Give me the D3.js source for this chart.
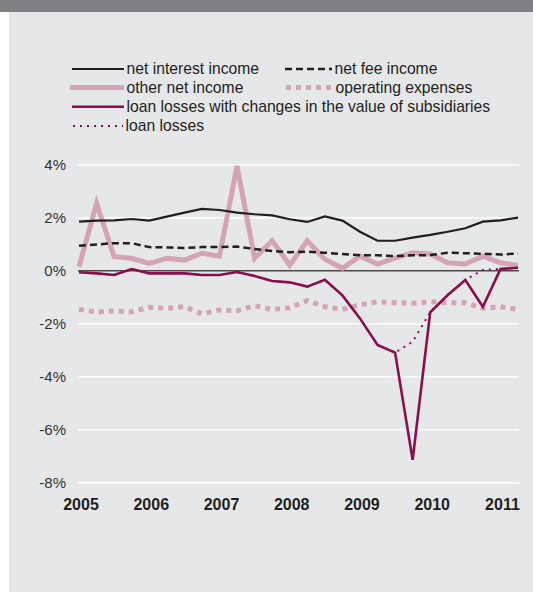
<!DOCTYPE html>
<html>
<head>
<meta charset="utf-8">
<script src="https://cdn.jsdelivr.net/npm/d3@7"></script>
<style>
  html, body { margin: 0; padding: 0; background: #ffffff; }
  svg { display: block; font-family: "Liberation Sans", Arial, Helvetica, sans-serif; }
</style>
</head>
<body>
<svg id="chart" width="533" height="592"></svg>
<script>
const quarters = ["2005Q1","2005Q2","2005Q3","2005Q4","2006Q1","2006Q2","2006Q3","2006Q4",
  "2007Q1","2007Q2","2007Q3","2007Q4","2008Q1","2008Q2","2008Q3","2008Q4",
  "2009Q1","2009Q2","2009Q3","2009Q4","2010Q1","2010Q2","2010Q3","2010Q4",
  "2011Q1","2011Q2"];
const yearLabels = ["2005","2006","2007","2008","2009","2010","2011"];
const yTicks = [4, 2, 0, -2, -4, -6, -8];

const netInterestIncome = [1.85,1.89,1.90,1.95,1.89,2.04,2.19,2.33,2.29,2.19,2.13,2.09,1.94,1.84,2.05,1.89,1.47,1.13,1.13,1.25,1.35,1.47,1.60,1.85,1.90,2.00];
const netFeeIncome = [0.94,0.99,1.04,1.04,0.89,0.88,0.86,0.89,0.89,0.91,0.82,0.74,0.70,0.72,0.68,0.63,0.58,0.58,0.55,0.58,0.59,0.68,0.66,0.64,0.61,0.65];
const otherNetIncome = [0.15,2.54,0.53,0.47,0.28,0.47,0.40,0.66,0.55,3.95,0.47,1.13,0.21,1.13,0.43,0.09,0.55,0.25,0.47,0.68,0.63,0.30,0.25,0.55,0.30,0.20];
const operatingExpenses = [-1.46,-1.56,-1.52,-1.55,-1.38,-1.42,-1.36,-1.63,-1.48,-1.51,-1.32,-1.46,-1.40,-1.13,-1.36,-1.46,-1.29,-1.17,-1.21,-1.23,-1.17,-1.21,-1.21,-1.42,-1.36,-1.46];
const loanLossesWithSubs = [-0.06,-0.10,-0.16,0.06,-0.10,-0.10,-0.10,-0.16,-0.16,-0.05,-0.20,-0.39,-0.44,-0.60,-0.34,-0.93,-1.80,-2.80,-3.09,-7.14,-1.57,-0.92,-0.35,-1.36,0.06,0.11];
const loanLosses = [-0.06,-0.10,-0.16,0.06,-0.10,-0.10,-0.10,-0.16,-0.16,-0.05,-0.20,-0.39,-0.44,-0.60,-0.34,-0.93,-1.80,-2.80,-3.09,-2.68,-1.57,-0.92,-0.35,0.03,0.07,0.11];

const BLACK = "#231f20";
const PINK = "#d4a4b6";
const MAGENTA = "#8a0f4c";

const svg = d3.select("#chart");

// background panels
svg.append("rect").attr("x", 0).attr("y", 0).attr("width", 533).attr("height", 12).attr("fill", "#808185");
svg.append("rect").attr("x", 9).attr("y", 12).attr("width", 524).attr("height", 580).attr("fill", "#e6e7e9");

const x = d3.scalePoint().domain(quarters).range([79, 518]);
const y = d3.scaleLinear().domain([-8, 4]).range([482.7, 164.7]);

// y axis labels
const yAxis = d3.axisLeft(y).tickValues(yTicks).tickSize(0).tickPadding(0)
  .tickFormat(d => d + "%");
const ga = svg.append("g").attr("transform", "translate(66,0)").call(yAxis);
ga.select(".domain").remove();
ga.selectAll("text").attr("font-size", "15px").attr("fill", "#333333")
  .attr("font-family", "'Liberation Sans', Arial, sans-serif");

// gridlines
svg.append("g").selectAll("line").data(yTicks.filter(d => d !== 0)).join("line")
  .attr("x1", 78).attr("x2", 519)
  .attr("y1", d => y(d)).attr("y2", d => y(d))
  .attr("stroke", "#ffffff").attr("stroke-width", 1.5);

svg.append("line").attr("x1", 78).attr("x2", 519).attr("y1", y(0)).attr("y2", y(0))
  .attr("stroke", "#4a4a4c").attr("stroke-width", 1.5);

// x axis labels
const xAxis = d3.axisBottom(x)
  .tickValues(quarters.filter(q => q.endsWith("Q1")))
  .tickSize(0).tickPadding(0)
  .tickFormat(q => yearLabels[yearLabels.indexOf(q.slice(0, 4))]);
const gx = svg.append("g").attr("transform", "translate(1.5,499)").call(xAxis);
gx.select(".domain").remove();
gx.selectAll("text").attr("font-size", "16px").attr("font-weight", "bold").attr("fill", BLACK)
  .attr("font-family", "'Liberation Sans', Arial, sans-serif");

const line = d3.line().x((d, i) => x(quarters[i])).y(d => y(d));

const series = [
  { data: operatingExpenses, color: PINK, width: 5, dash: "5,5" },
  { data: otherNetIncome, color: PINK, width: 5, dash: null },
  { data: netFeeIncome, color: BLACK, width: 2.5, dash: "7,4" },
  { data: netInterestIncome, color: BLACK, width: 2.2, dash: null },
  { data: loanLosses, color: MAGENTA, width: 2, dash: "2,5" },
  { data: loanLossesWithSubs, color: MAGENTA, width: 2.6, dash: null }
];

svg.append("g").selectAll("path").data(series).join("path")
  .attr("d", s => line(s.data))
  .attr("fill", "none")
  .attr("stroke", s => s.color)
  .attr("stroke-width", s => s.width)
  .attr("stroke-dasharray", s => s.dash)
  .attr("stroke-linejoin", "miter");

// legend
const legend = [
  { label: "net interest income", color: BLACK, width: 2.2, dash: null, x: 72, len: 52, y: 69 },
  { label: "net fee income", color: BLACK, width: 2.5, dash: "7,4", x: 285, len: 47, y: 69 },
  { label: "other net income", color: PINK, width: 5, dash: null, x: 70, len: 54, y: 87.5 },
  { label: "operating expenses", color: PINK, width: 5, dash: "5,5", x: 286, len: 47, y: 87.5 },
  { label: "loan losses with changes in the value of subsidiaries", color: MAGENTA, width: 2.6, dash: null, x: 72, len: 52, y: 106.7 },
  { label: "loan losses", color: MAGENTA, width: 2, dash: "2,5", x: 73, len: 50, y: 126 }
];
const lg = svg.append("g").selectAll("g").data(legend).join("g");
lg.append("line")
  .attr("x1", d => d.x).attr("x2", d => d.x + d.len)
  .attr("y1", d => d.y).attr("y2", d => d.y)
  .attr("stroke", d => d.color).attr("stroke-width", d => d.width)
  .attr("stroke-dasharray", d => d.dash);
lg.append("text")
  .attr("x", d => d.x + d.len + 2.5).attr("y", d => d.y + 5.4)
  .attr("font-size", "15.7px").attr("fill", BLACK)
  .text(d => d.label);
</script>
</body>
</html>
